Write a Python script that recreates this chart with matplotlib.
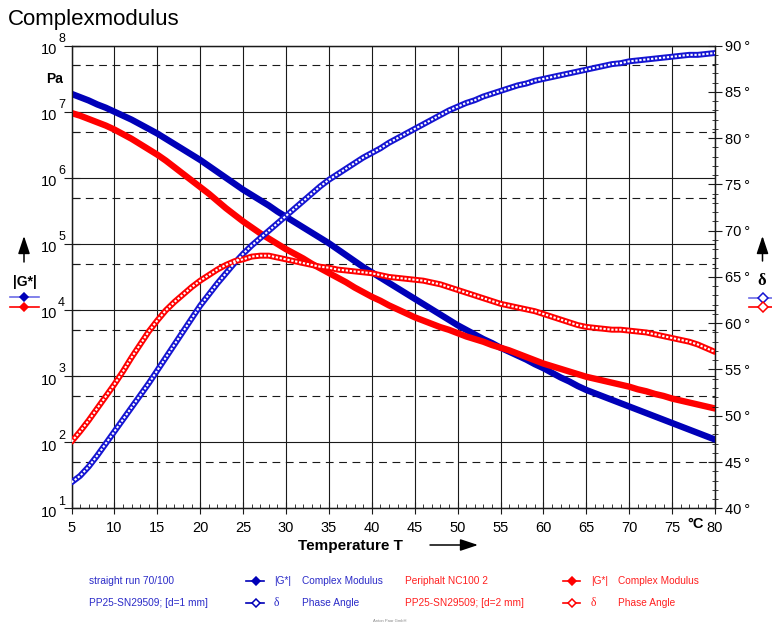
import matplotlib
matplotlib.use("Agg")
import matplotlib.pyplot as plt
import numpy as np
from matplotlib.lines import Line2D
from matplotlib.ticker import MultipleLocator, FixedLocator, NullFormatter

plt.rcParams['font.family'] = ['Liberation Sans', 'DejaVu Sans']

# ---------------- data ----------------
temperature = list(range(5, 81))  # °C

# straight run 70/100 : log10(|G*| / Pa)
g_log_sr = [7.27, 7.22, 7.17, 7.11, 7.06, 7.00, 6.94, 6.88, 6.81, 6.74,
            6.67, 6.59, 6.51, 6.43, 6.35, 6.27, 6.18, 6.09, 6.00, 5.91,
            5.82, 5.74, 5.66, 5.58, 5.49, 5.41, 5.33, 5.25, 5.17, 5.09,
            5.01, 4.92, 4.83, 4.74, 4.65, 4.57, 4.49, 4.41, 4.33, 4.25,
            4.17, 4.09, 4.01, 3.93, 3.85, 3.77, 3.70, 3.63, 3.56, 3.50,
            3.43, 3.37, 3.31, 3.25, 3.18, 3.12, 3.05, 2.98, 2.92, 2.85,
            2.79, 2.74, 2.69, 2.64, 2.59, 2.54, 2.49, 2.44, 2.39, 2.34,
            2.29, 2.24, 2.19, 2.14, 2.09, 2.04]
# straight run 70/100 : phase angle (deg)
delta_sr = [42.8, 43.5, 44.5, 45.7, 47.0, 48.3, 49.6, 50.9, 52.2, 53.5,
            54.9, 56.3, 57.7, 59.1, 60.5, 61.9, 63.1, 64.3, 65.4, 66.5,
            67.5, 68.4, 69.2, 70.0, 70.8, 71.6, 72.4, 73.2, 74.0, 74.8,
            75.5, 76.1, 76.7, 77.3, 77.9, 78.4, 78.9, 79.5, 80.0, 80.5,
            81.0, 81.5, 82.0, 82.5, 83.0, 83.4, 83.8, 84.1, 84.5, 84.8,
            85.1, 85.4, 85.7, 85.9, 86.2, 86.4, 86.6, 86.8, 87.0, 87.2,
            87.4, 87.6, 87.8, 88.0, 88.1, 88.3, 88.4, 88.5, 88.6, 88.7,
            88.8, 88.9, 89.0, 89.0, 89.1, 89.2]
# Periphalt NC100 2 : log10(|G*| / Pa)
g_log_pn = [6.98, 6.94, 6.89, 6.84, 6.79, 6.73, 6.66, 6.59, 6.51, 6.43,
            6.35, 6.26, 6.16, 6.06, 5.96, 5.86, 5.76, 5.65, 5.54, 5.44,
            5.34, 5.25, 5.16, 5.08, 5.00, 4.92, 4.85, 4.78, 4.70, 4.63,
            4.56, 4.49, 4.42, 4.34, 4.27, 4.20, 4.14, 4.07, 4.01, 3.95,
            3.89, 3.84, 3.79, 3.74, 3.70, 3.65, 3.60, 3.56, 3.52, 3.47,
            3.43, 3.39, 3.34, 3.29, 3.24, 3.19, 3.15, 3.11, 3.07, 3.03,
            2.99, 2.96, 2.93, 2.90, 2.87, 2.84, 2.80, 2.77, 2.73, 2.70,
            2.66, 2.63, 2.60, 2.57, 2.54, 2.51]
# Periphalt NC100 2 : phase angle (deg)
delta_pn = [47.2, 48.3, 49.5, 50.8, 52.1, 53.4, 54.8, 56.3, 57.7, 59.1,
            60.3, 61.4, 62.3, 63.1, 63.9, 64.6, 65.2, 65.8, 66.3, 66.7,
            66.9, 67.2, 67.3, 67.3, 67.1, 66.9, 66.7, 66.5, 66.3, 66.1,
            66.0, 65.8, 65.7, 65.6, 65.5, 65.4, 65.2, 65.0, 64.9, 64.8,
            64.7, 64.6, 64.4, 64.2, 63.9, 63.6, 63.3, 63.0, 62.7, 62.4,
            62.1, 61.9, 61.7, 61.5, 61.3, 61.0, 60.7, 60.4, 60.1, 59.8,
            59.6, 59.5, 59.4, 59.3, 59.3, 59.2, 59.1, 59.0, 58.8, 58.6,
            58.4, 58.2, 58.0, 57.7, 57.3, 56.9]

x_ticks = list(range(5, 81, 5))
decades = [1, 2, 3, 4, 5, 6, 7, 8]
angle_ticks = list(range(40, 91, 5))

g_sr = 10 ** np.array(g_log_sr)
g_pn = 10 ** np.array(g_log_pn)

BLUE_DARK = '#0000b8'
BLUE = '#1414d2'
RED = '#ff0000'
TXT_BLUE = '#2b2bc8'
TXT_RED = '#ff2020'
GRID = '#1a1a1a'

W, H = 772, 623
fig = plt.figure(figsize=(W / 100, H / 100), dpi=100)


def fx(x):
    return x / W


def fy(y):
    return 1 - y / H


ax = fig.add_axes([fx(71.5), fy(508.3), fx(715) - fx(71.5), fy(45.6) - fy(508.3)])
ax2 = ax.twinx()

# ---- left log axis ----
ax.set_yscale('log')
ax.set_ylim(10, 1e8)
ax.set_xlim(5, 80)
ax.yaxis.set_major_locator(FixedLocator([10.0 ** d for d in decades]))
ax.yaxis.set_minor_locator(FixedLocator([5 * 10.0 ** d for d in decades[:-1]]))
ax.yaxis.set_major_formatter(NullFormatter())
ax.yaxis.set_minor_formatter(NullFormatter())
ax.tick_params(axis='y', which='major', direction='inout', length=12, width=0.8, color=GRID)
ax.tick_params(axis='y', which='minor', direction='in', length=6, width=0.8, color=GRID)

ax.xaxis.set_major_locator(FixedLocator(x_ticks))
ax.xaxis.set_minor_locator(MultipleLocator(1))
ax.set_xticklabels([str(t) for t in x_ticks])
ax.tick_params(axis='x', which='major', direction='inout', length=8, width=0.8,
               labelsize=10.5, pad=5, color=GRID)
ax.tick_params(axis='x', which='minor', direction='in', length=3, width=0.6, color=GRID)

ax.grid(which='major', axis='both', color=GRID, lw=0.8)
ax.grid(which='minor', axis='y', color=GRID, lw=0.8, linestyle=(0, (7, 5)))
ax.set_axisbelow(True)

for sp in ax.spines.values():
    sp.set_color(GRID)
    sp.set_linewidth(0.9)

# |G*| curves
ax.plot(temperature, g_sr, color=BLUE_DARK, lw=4.6, solid_capstyle='round',
        solid_joinstyle='round', zorder=3)
ax.plot(temperature, g_pn, color=RED, lw=4.6, solid_capstyle='round',
        solid_joinstyle='round', zorder=3)

# exponent labels for the log axis
for d in decades:
    ax.annotate('10', xy=(0, 10.0 ** d), xycoords=ax.get_yaxis_transform(),
                xytext=(-10.5, -3.2), textcoords='offset points',
                ha='right', va='center', fontsize=10.5)
    ax.annotate(str(d), xy=(0, 10.0 ** d), xycoords=ax.get_yaxis_transform(),
                xytext=(-9.6, 4.8), textcoords='offset points',
                ha='left', va='center', fontsize=9)

# ---- right angle axis ----
ax2.set_ylim(40, 90)
ax2.yaxis.set_major_locator(FixedLocator(angle_ticks))
ax2.yaxis.set_minor_locator(MultipleLocator(1))
ax2.set_yticklabels([f"{a}\u2009°" for a in angle_ticks])
ax2.tick_params(axis='y', which='major', direction='inout', length=10, width=0.8,
                labelsize=10.5, pad=2, color=GRID)
ax2.tick_params(axis='y', which='minor', direction='inout', length=4, width=0.6, color=GRID)
for sp in ax2.spines.values():
    sp.set_color(GRID)
    sp.set_linewidth(0.9)


def hollow(axis, x, y, color):
    axis.plot(x, y, color=color, lw=4.3, solid_capstyle='round', solid_joinstyle='round', zorder=3)
    axis.plot(x, y, color='white', lw=1.5, linestyle=(0, (1.1, 0.8)), zorder=4)


hollow(ax2, temperature, delta_sr, BLUE)
hollow(ax2, temperature, delta_pn, RED)

# ---- texts ----
fig.text(fx(8), fy(19), 'Complexmodulus', fontsize=16, ha='left', va='center')
fig.text(fx(54.5), fy(79), 'Pa', fontsize=10, fontweight='bold', ha='center', va='center')
fig.text(fx(24.5), fy(282), '|G*|', fontsize=10, fontweight='bold', ha='center', va='center')
fig.text(fx(762), fy(281), 'δ', fontsize=12, fontweight='bold', ha='center', va='center',
         family=['Liberation Serif', 'DejaVu Serif'])
fig.text(fx(350), fy(546), 'Temperature T', fontsize=11, fontweight='bold', ha='center', va='center')
fig.text(fx(696), fy(524), '°C', fontsize=10.5, fontweight='bold', ha='center', va='center')
fig.text(fx(390), fy(621), 'Anton Paar GmbH', fontsize=3, color='#888888', ha='center', va='center')

# arrows
arrow_kw = dict(arrowstyle='-|>,head_length=0.9,head_width=0.3', color='black', lw=1.1,
                shrinkA=0, shrinkB=0)
fig.patches.append(matplotlib.patches.FancyArrowPatch(
    (fx(430), fy(545)), (fx(478), fy(545)), transform=fig.transFigure, mutation_scale=12, **arrow_kw))
fig.patches.append(matplotlib.patches.FancyArrowPatch(
    (fx(24), fy(262)), (fx(24), fy(236)), transform=fig.transFigure, mutation_scale=12, **arrow_kw))
fig.patches.append(matplotlib.patches.FancyArrowPatch(
    (fx(762.5), fy(261)), (fx(762.5), fy(236)), transform=fig.transFigure, mutation_scale=12, **arrow_kw))


def sample(x0, x1, xm, y, lcolor, mcolor, filled, ms=5):
    fig.add_artist(Line2D([fx(x0), fx(xm), fx(x1)], [fy(y)] * 3, transform=fig.transFigure,
                          color=lcolor, lw=1.2, marker='D', markersize=ms,
                          markevery=[1], markerfacecolor=mcolor if filled else 'white',
                          markeredgecolor=mcolor, markeredgewidth=1.1))


# axis-side legend samples
sample(10, 39, 24, 297, '#6c6ce6', BLUE_DARK, True, 4.5)
sample(10, 39, 24, 306.7, RED, RED, True, 4.5)
sample(749, 772, 763, 297.7, '#6c6ce6', BLUE, False, 5)
sample(749, 772, 763, 307.3, RED, RED, False, 5)

# bottom legend
row1, row2 = 580.7, 602.7
lfs = 7.3
fig.text(fx(89), fy(row1), 'straight run 70/100', color=TXT_BLUE, fontsize=lfs, va='center')
fig.text(fx(89), fy(row2), 'PP25-SN29509; [d=1 mm]', color=TXT_BLUE, fontsize=lfs, va='center')
sample(246, 264, 255.5, row1, BLUE_DARK, BLUE_DARK, True, 4.5)
sample(246, 264, 255.5, row2, BLUE_DARK, BLUE_DARK, False, 4.5)
fig.text(fx(274), fy(row1), '|G*|', color=TXT_BLUE, fontsize=lfs, va='center')
fig.text(fx(274), fy(row2), 'δ', color=TXT_BLUE, fontsize=lfs + 1, va='center',
         family=['Liberation Serif', 'DejaVu Serif'])
fig.text(fx(302), fy(row1), 'Complex Modulus', color=TXT_BLUE, fontsize=lfs, va='center')
fig.text(fx(302), fy(row2), 'Phase Angle', color=TXT_BLUE, fontsize=lfs, va='center')

fig.text(fx(405), fy(row1), 'Periphalt NC100 2', color=TXT_RED, fontsize=lfs, va='center')
fig.text(fx(405), fy(row2), 'PP25-SN29509; [d=2 mm]', color=TXT_RED, fontsize=lfs, va='center')
sample(563, 580, 571.5, row1, RED, RED, True, 4.5)
sample(563, 580, 571.5, row2, RED, RED, False, 4.5)
fig.text(fx(591), fy(row1), '|G*|', color=TXT_RED, fontsize=lfs, va='center')
fig.text(fx(591), fy(row2), 'δ', color=TXT_RED, fontsize=lfs + 1, va='center',
         family=['Liberation Serif', 'DejaVu Serif'])
fig.text(fx(618), fy(row1), 'Complex Modulus', color=TXT_RED, fontsize=lfs, va='center')
fig.text(fx(618), fy(row2), 'Phase Angle', color=TXT_RED, fontsize=lfs, va='center')

fig.savefig('out.png', dpi=100)
